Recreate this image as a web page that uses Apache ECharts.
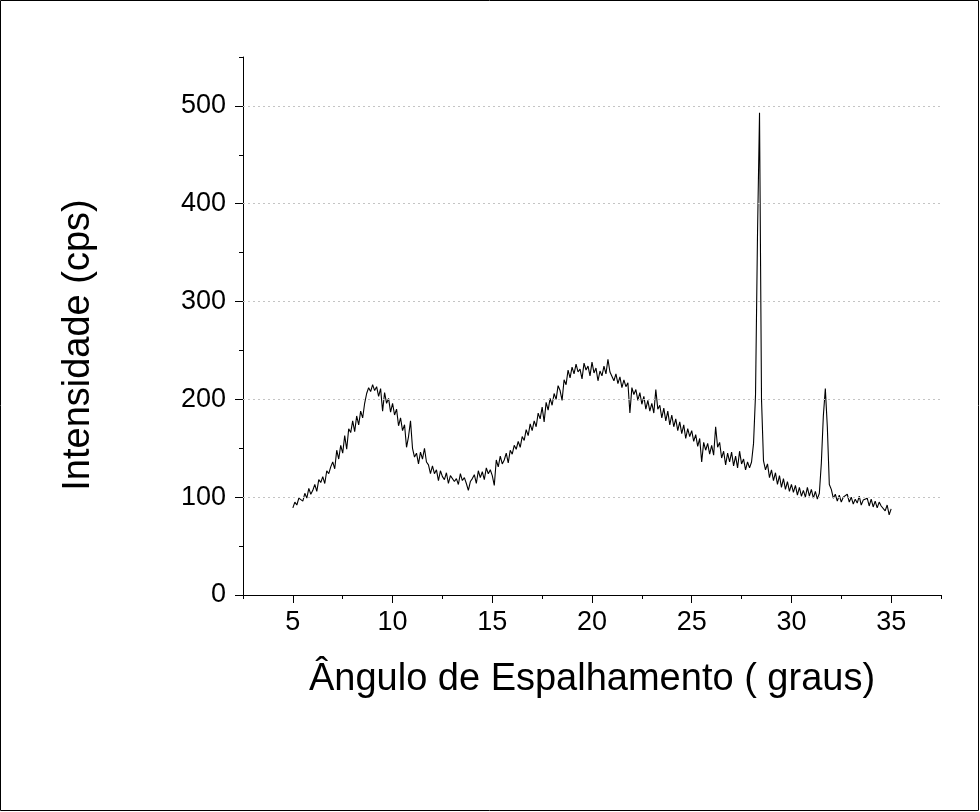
<!DOCTYPE html>
<html>
<head>
<meta charset="utf-8">
<title>Difratograma</title>
<script src="https://cdn.jsdelivr.net/npm/echarts@6/dist/echarts.min.js"></script>
<style>
  html, body { margin: 0; padding: 0; background: #fff; }
  #chart { width: 980px; height: 812px; }
</style>
</head>
<body>
<div id="chart"></div>
<script>
// eixo x: 2θ de 5.0 a 35.0 graus, passo de 0.1
const angleStart = 5
const angleStep = 0.1

// intensidade (cps), uma linha por grau (x.0 ... x.9)
const intensity = [
  89, 95, 92, 99, 101, 96, 104, 99, 109, 103,
  107, 113, 106, 118, 115, 121, 114, 127, 124, 131,
  136, 129, 148, 139, 153, 145, 163, 149, 170, 166,
  178, 167, 183, 174, 188, 181, 196, 206, 212, 208,
  215, 209, 213, 203, 211, 188, 207, 196, 201, 187,
  196, 184, 190, 173, 181, 168, 174, 151, 162, 178,
  150, 141, 145, 134, 146, 139, 150, 136, 133, 124,
  132, 124, 128, 117, 127, 121, 118, 125, 114, 122,
  121, 116, 119, 113, 124, 117, 120, 114, 107, 116,
  119, 123, 114, 127, 120, 126, 118, 130, 124, 128,
  122, 112, 138, 131, 142, 134, 138, 145, 135, 148,
  144, 153, 149, 157, 151, 162, 158, 169, 163, 175,
  168, 178, 172, 186, 180, 192, 177, 197, 189, 201,
  194, 206, 200, 214, 209, 199, 220, 215, 230, 222,
  233, 226, 236, 228, 231, 221, 237, 230, 234, 224,
  238, 227, 232, 219, 229, 224, 234, 226, 241, 228,
  230, 219, 226, 216, 223, 212, 220, 213, 217, 186,
  212, 205, 210, 199, 207, 195, 203, 190, 199, 188,
  196, 186, 210, 190, 194, 181, 191, 178, 188, 174,
  184, 172, 180, 168, 177, 165, 174, 160, 170, 162,
  168, 157, 164, 152, 160, 136, 156, 148, 155, 144,
  153, 143, 172, 151, 156, 140, 147, 133, 145, 136,
  146, 132, 142, 130, 147, 134, 139, 128, 136, 130,
  136, 155, 205, 370, 493, 200, 137, 128, 134, 120,
  128, 117, 125, 113, 122, 110, 119, 108, 116, 106,
  113, 105, 112, 102, 110, 101, 107, 100, 110, 101,
  108, 99, 106, 98, 104, 135, 183, 211, 172, 113,
  108, 99, 103, 96, 102, 95, 100, 98, 103, 95,
  100, 93, 98, 94, 101, 92, 97, 95, 99, 91,
  98, 90, 96, 89, 95, 91, 93, 86, 92, 82,
  88
]

const xMajorTicks = [5, 10, 15, 20, 25, 30, 35]
const xMinorTicks = [2.5, 7.5, 12.5, 17.5, 22.5, 27.5, 32.5, 37.5]
const yMajorTicks = [0, 100, 200, 300, 400, 500]
const yMinorTicks = [50, 150, 250, 350, 450, 550]
const gridValues = [100, 200, 300, 400, 500]

const xTitle = 'Ângulo de Espalhamento ( graus)'
const yTitle = 'Intensidade (cps)'

const font = 'Liberation Sans, Arial, sans-serif'

const points = intensity.map((v, i) => [+(angleStart + i * angleStep).toFixed(1), v])

const chart = echarts.init(document.getElementById('chart'), null, { renderer: 'canvas' })

const option = {
  animation: false,
  backgroundColor: '#fff',
  grid: { left: 243, right: 39, top: 57, bottom: 217, containLabel: false },
  xAxis: [
    {
      type: 'value',
      min: 2.5,
      max: 37.5,
      interval: 2.5,
      name: xTitle,
      nameLocation: 'middle',
      nameGap: 66,
      nameTextStyle: { color: '#000', fontSize: 38, fontFamily: font },
      axisLine: { onZero: false, lineStyle: { color: '#000', width: 1 } },
      axisTick: { show: true, inside: false, length: 8, customValues: xMajorTicks, lineStyle: { color: '#000' } },
      axisLabel: { show: true, customValues: xMajorTicks, margin: 14, color: '#000', fontSize: 27, fontFamily: font },
      splitLine: { show: false }
    },
    {
      type: 'value',
      min: 2.5,
      max: 37.5,
      interval: 2.5,
      position: 'bottom',
      axisLine: { show: false },
      axisTick: { show: true, inside: false, length: 4, customValues: xMinorTicks, lineStyle: { color: '#000' } },
      axisLabel: { show: false },
      splitLine: { show: false }
    }
  ],
  yAxis: [
    {
      type: 'value',
      min: 0,
      max: 550,
      interval: 50,
      axisLine: { show: true, onZero: false, lineStyle: { color: '#000', width: 1 } },
      axisTick: { show: true, inside: false, length: 8, customValues: yMajorTicks, lineStyle: { color: '#000' } },
      axisLabel: { show: true, customValues: yMajorTicks, margin: 17, color: '#000', fontSize: 27, fontFamily: font },
      splitLine: { show: false }
    },
    {
      type: 'value',
      min: 0,
      max: 550,
      interval: 50,
      position: 'left',
      axisLine: { show: false },
      axisTick: { show: true, inside: false, length: 4, customValues: yMinorTicks, lineStyle: { color: '#000' } },
      axisLabel: { show: false },
      splitLine: { show: false }
    }
  ],
  graphic: [
    {
      type: 'rect',
      shape: { x: 0.5, y: 0.5, width: 978, height: 810 },
      style: { fill: null, stroke: '#000', lineWidth: 1 },
      silent: true
    },
    {
      type: 'text',
      x: 79,
      y: 345,
      rotation: Math.PI / 2,
      style: {
        text: yTitle,
        fill: '#000',
        font: '38px ' + font,
        textAlign: 'center',
        textVerticalAlign: 'middle'
      },
      silent: true
    }
  ],
  series: [
    {
      type: 'line',
      xAxisIndex: 0,
      yAxisIndex: 0,
      data: points,
      showSymbol: false,
      symbol: 'none',
      lineStyle: { color: '#000', width: 1.1 },
      markLine: {
        silent: true,
        symbol: ['none', 'none'],
        label: { show: false },
        lineStyle: { color: '#c4c4c4', width: 1, type: [2, 3] },
        data: gridValues.map(v => ({ yAxis: v }))
      },
      z: 3
    }
  ]
}

chart.setOption(option)
</script>
</body>
</html>
